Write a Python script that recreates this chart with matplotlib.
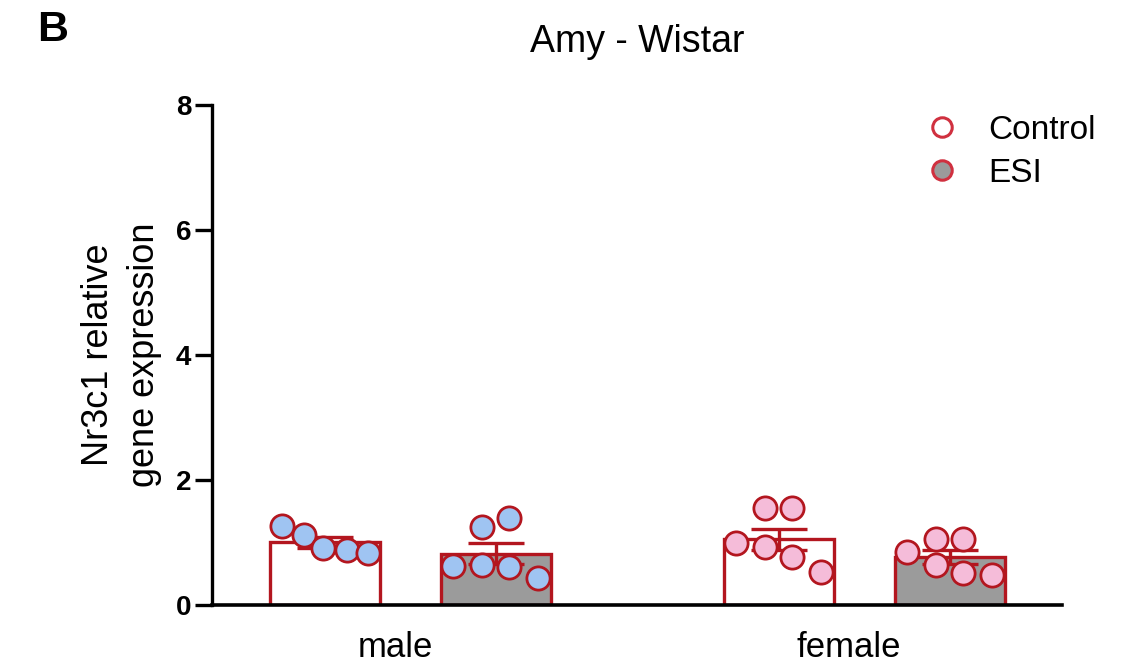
import matplotlib
matplotlib.use('Agg')
import matplotlib.pyplot as plt
import matplotlib.transforms as mtransforms
import numpy as np
from matplotlib.lines import Line2D

plt.rcParams['font.family'] = ['Liberation Sans', 'DejaVu Sans']

# Nr3c1 expression in amygdala, Wistar rats
sexes = ['male', 'female']
conditions = ['Control', 'ESI']
male_control = [1.26, 1.12, 0.91, 0.88, 0.83]
male_esi = [0.62, 1.25, 1.39, 0.64, 0.61, 0.43]
female_control = [0.99, 1.55, 1.55, 0.93, 0.77, 0.53]
female_esi = [0.85, 1.06, 1.06, 0.64, 0.51, 0.48]
y_ticks = [0, 2, 4, 6, 8]

groups = [
    (0, 'Control', male_control),
    (0, 'ESI', male_esi),
    (1, 'Control', female_control),
    (1, 'ESI', female_esi),
]

# scatter layout inside each bar (fraction of bar width)
spread5 = [-0.39, -0.19, -0.02, 0.2, 0.39]
spread6 = [-0.39, -0.13, 0.12, -0.13, 0.12, 0.38]

RED = '#b3161f'
LEG_RED = '#d0303f'
GRAY = '#9b9b9b'
point_colors = {0: '#9fc4f2', 1: '#f5bcd9'}
bar_fill = {'Control': 'white', 'ESI': GRAY}
cond_shift = {'Control': -0.187, 'ESI': 0.19}
bar_w = 0.242

fig = plt.figure(figsize=(11.24, 6.66), dpi=100)
ax = fig.add_axes([0.1886, 0.0916, 0.7562, 0.7508])

for sex_i, cond, vals in groups:
    vals = np.array(vals)
    mean = vals.mean()
    sem = vals.std(ddof=1) / np.sqrt(len(vals))
    xc = sex_i + cond_shift[cond]
    ax.bar(xc, mean, width=bar_w, color=bar_fill[cond], edgecolor=RED,
           linewidth=2.4, zorder=2)
    ax.errorbar(xc, mean, yerr=sem, fmt='none', ecolor=RED, elinewidth=2.4,
                capsize=20, capthick=2.4, zorder=3)
    spread = spread5 if len(vals) == 5 else spread6
    xs = xc + np.array(spread) * bar_w
    ax.scatter(xs, vals, s=280, color=point_colors[sex_i], edgecolor=RED,
               linewidth=2.0, zorder=4, clip_on=False)

ax.set_xlim(-0.436, 1.436)
ax.set_ylim(0, 8)
ax.set_yticks(y_ticks)
ax.set_yticklabels([str(t) for t in y_ticks], fontsize=20, fontweight='bold')
ax.tick_params(axis='y', length=12, width=2.4, pad=3)
ax.set_xticks([0, 1])
ax.set_xticklabels(sexes, fontsize=25)
ax.tick_params(axis='x', length=0, pad=19)
shift = mtransforms.ScaledTranslation(-15 / 100, 0, fig.dpi_scale_trans)
for lab in ax.get_xticklabels():
    lab.set_transform(lab.get_transform() + shift)

for side in ['top', 'right']:
    ax.spines[side].set_visible(False)
ax.spines['left'].set_linewidth(2.4)
ax.spines['bottom'].set_linewidth(2.6)

ax.set_ylabel('Nr3c1 relative\ngene expression', fontsize=26, labelpad=10,
              linespacing=1.4)
ax.set_title('Amy - Wistar', fontsize=27, pad=38)
fig.text(0.033, 0.955, 'B', fontsize=31, fontweight='bold', va='center')

handles = [
    Line2D([], [], marker='o', linestyle='none', markersize=14,
           markerfacecolor='white', markeredgecolor=LEG_RED, markeredgewidth=2.2),
    Line2D([], [], marker='o', linestyle='none', markersize=14,
           markerfacecolor=GRAY, markeredgecolor=LEG_RED, markeredgewidth=2.2),
]
ax.legend(handles, conditions, loc='upper right', bbox_to_anchor=(1.075, 1.04),
          frameon=False, fontsize=24, handletextpad=0.4, labelspacing=0.35)

fig.savefig('out.png', dpi=100)
